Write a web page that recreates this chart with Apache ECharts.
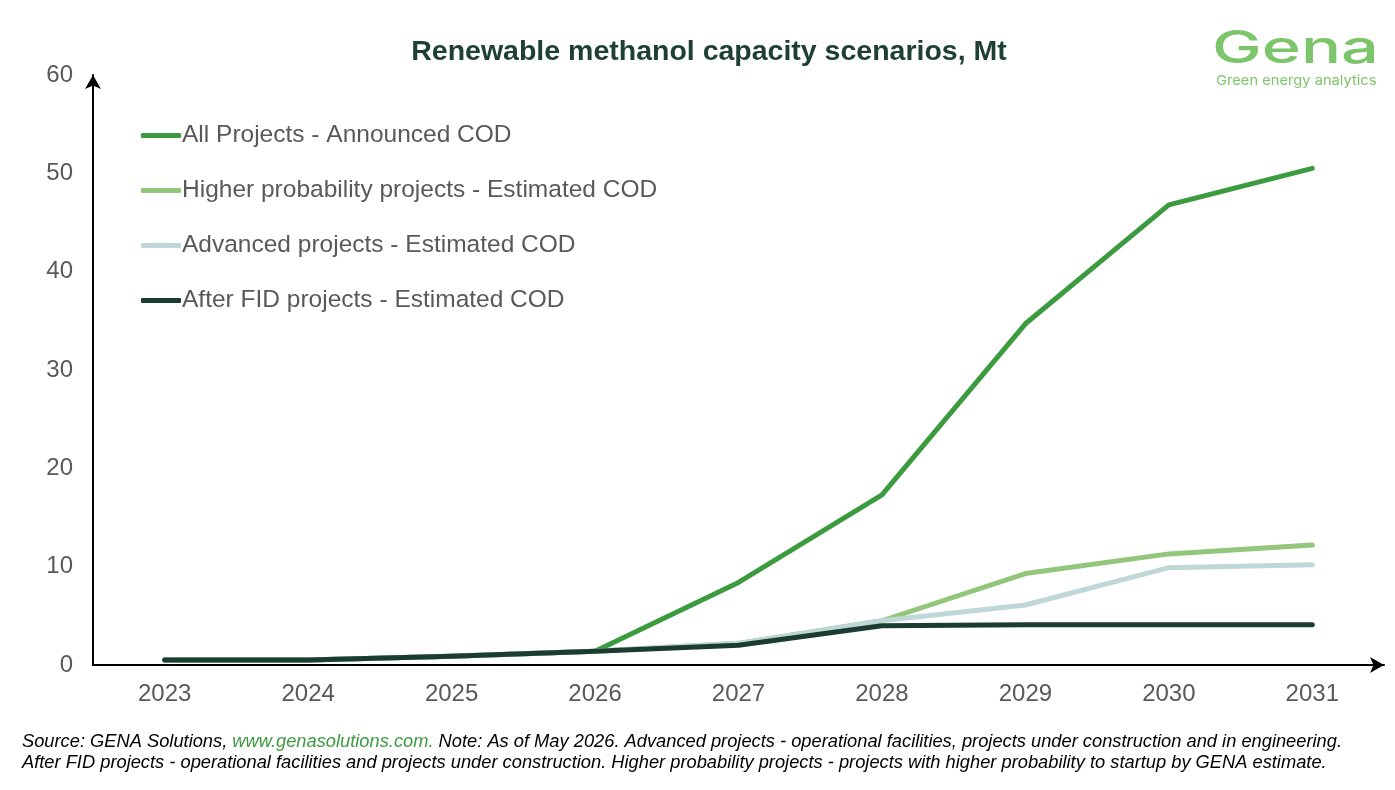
<!DOCTYPE html>
<html>
<head>
<meta charset="utf-8">
<script src="https://cdn.jsdelivr.net/npm/echarts@6/dist/echarts.min.js"></script>
<style>
html,body{margin:0;padding:0;background:#fff;}
#chart{width:1395px;height:790px;}
</style>
</head>
<body>
<div id="chart"></div>
<script>
const categories = ['2023','2024','2025','2026','2027','2028','2029','2030','2031'];
const allProjects = [0.5, 0.5, 0.9, 1.4, 8.4, 17.3, 34.7, 46.8, 50.5];
const higherProb = [0.5, 0.5, 0.9, 1.4, 2.2, 4.5, 9.3, 11.3, 12.2];
const advanced = [0.5, 0.5, 0.9, 1.4, 2.2, 4.5, 6.1, 9.9, 10.2];
const afterFID = [0.5, 0.5, 0.9, 1.4, 2.0, 4.0, 4.1, 4.1, 4.1];
const seriesNames = [
  'All Projects - Announced COD',
  'Higher probability projects - Estimated COD',
  'Advanced projects - Estimated COD',
  'After FID projects - Estimated COD'
];
const colors = ['#3d9b3f', '#93c57b', '#bfd7d6', '#1b3d2f'];
const yTicks = { min: 0, max: 60, interval: 10 };

const chart = echarts.init(document.getElementById('chart'));
const font = "'Liberation Sans', Arial, sans-serif";
const seriesData = [allProjects, higherProb, advanced, afterFID];

chart.setOption({
  animation: false,
  backgroundColor: '#ffffff',
  title: {
    text: 'Renewable methanol capacity scenarios, Mt',
    left: 704, top: 33, textAlign: 'center',
    textStyle: { fontFamily: font, fontSize: 28.5, fontWeight: 'bold', color: '#1e3f33' }
  },
  legend: {
    orient: 'vertical', left: 136, top: 118, itemGap: 30,
    itemWidth: 40, itemHeight: 5, icon: 'roundRect',
    data: seriesNames,
    textStyle: { fontFamily: font, fontSize: 24.5, color: '#595959', padding: [0,0,0,-4] }
  },
  grid: { left: 93, right: 11, top: 75, bottom: 125, containLabel: false },
  xAxis: {
    type: 'category', data: categories, boundaryGap: true,
    axisLine: { show: true, symbol: ['none','arrow'], symbolSize: [12, 14], lineStyle: { color: '#000', width: 2 } },
    axisTick: { show: false },
    axisLabel: { fontFamily: font, fontSize: 24, color: '#595959', margin: 17 },
    splitLine: { show: false }
  },
  yAxis: {
    type: 'value', min: yTicks.min, max: yTicks.max, interval: yTicks.interval,
    axisLine: { show: true, symbol: ['none','arrow'], symbolSize: [12, 14], lineStyle: { color: '#000', width: 2 } },
    axisTick: { show: false },
    axisLabel: { fontFamily: font, fontSize: 24, color: '#595959', margin: 20 },
    splitLine: { show: false }
  },
  series: seriesNames.map((n, i) => ({
    name: n, type: 'line', data: seriesData[i], symbol: 'none',
    lineStyle: { color: colors[i], width: 5, cap: 'round', join: 'round' },
    itemStyle: { color: colors[i] }, z: 2 + i
  })),
  graphic: [
    { type: 'text', x: 1212, y: 27, scaleX: 1.48, style: { text: 'Gena', font: "500 45px Inter, Lato, sans-serif", fill: '#7dc56a' } },
    { type: 'text', x: 1216, y: 75, scaleX: 1.13, style: { text: 'Green energy analytics', font: '13px Inter, Lato, sans-serif', fill: '#7dc56a' } },
    { type: 'text', left: 22, top: 733, style: {
        text: '{a|Source: GENA Solutions, }{g|www.genasolutions.com.}{a| Note: As of May 2026. Advanced projects - operational facilities, projects under construction and in engineering.}\n{a|After FID projects - operational facilities and projects under construction. Higher probability projects - projects with higher probability to startup by GENA estimate.}',
        rich: {
          a: { fontFamily: font, fontStyle: 'italic', fontSize: 18.3, fill: '#000', lineHeight: 21 },
          g: { fontFamily: font, fontStyle: 'italic', fontSize: 18.3, fill: '#3d9b3f', lineHeight: 21 }
        }
    } }
  ]
});
</script>
</body>
</html>
